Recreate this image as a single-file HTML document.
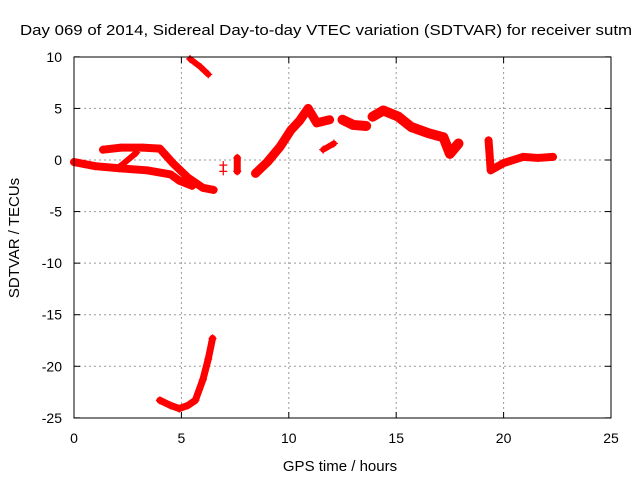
<!DOCTYPE html>
<html><head><meta charset="utf-8"><style>
body{margin:0;background:#fff}
svg text{font-family:"Liberation Sans",sans-serif;font-size:14px;fill:#000}
</style></head><body>
<svg id="chart" width="640" height="480">
<text x="20" y="35" textLength="612" lengthAdjust="spacingAndGlyphs" style="font-size:15px">Day 069 of 2014, Sidereal Day-to-day VTEC variation (SDTVAR) for receiver sutm</text>
<text x="340" y="471" text-anchor="middle" style="font-size:15px">GPS time / hours</text>
<text transform="translate(19,238) rotate(-90)" text-anchor="middle" style="font-size:15px">SDTVAR / TECUs</text>
<g id="grid"></g><g id="axes"></g><g id="marks"></g>
<rect x="74" y="57" width="537" height="361" fill="none" stroke="#000" stroke-width="1"/>
</svg>
<script>
const xTicks=[0,5,10,15,20,25];
const yTicks=[10,5,0,-5,-10,-15,-20,-25];
const segLower=[[0,-0.2],[1.0,-0.6],[2.1,-0.8],[3.4,-1.0],[4.5,-1.4],[4.9,-2.0],[5.5,-2.5]];
const segUpper=[[1.35,1.0],[2.2,1.2],[3.2,1.2],[4.0,1.1],[4.6,-0.3],[5.3,-1.7],[6.0,-2.7],[6.5,-2.9]];
const segCross=[[2.1,-0.7],[2.9,0.7]];
const segTop=[[5.4,9.8],[5.9,9.0],[6.25,8.3]];
const segArc=[[4.0,-23.3],[4.5,-23.8],[4.9,-24.1],[5.3,-23.8],[5.65,-23.3],[6.0,-21.3],[6.25,-19.3],[6.45,-17.3]];
const segIsoA=[[6.95,-0.5],[6.95,-1.1]];
const segIsoB=[[7.6,0.2],[7.6,-1.1]];
const segRise=[[8.45,-1.3],[9.0,-0.2],[9.6,1.3],[10.1,2.9],[10.5,3.8],[10.9,5.0],[11.3,3.6],[11.9,3.9]];
const segSmall=[[11.6,1.0],[12.1,1.6]];
const segMid=[[12.5,3.9],[13.0,3.4],[13.6,3.3]];
const segHump=[[13.9,4.2],[14.4,4.8],[15.1,4.2],[15.7,3.2],[16.5,2.6],[17.2,2.2],[17.5,0.6],[17.9,1.6]];
const segLast=[[19.3,1.9],[19.4,-1.0],[20.0,-0.3],[20.9,0.3],[21.6,0.2],[22.3,0.3]];
const series=[segLower,segUpper,segCross,segTop,segArc,segIsoA,segIsoB,segRise,segSmall,segMid,segHump,segLast];
const widths=[8,8,6,6,7,1.5,7,9,6,10,10,8];
const X=v=>74+v*(537/25), Y=v=>160-v*(361/35);
const NS='http://www.w3.org/2000/svg';
const grid=document.getElementById('grid'),axes=document.getElementById('axes'),marks=document.getElementById('marks');
function mk(t,a,p){const e=document.createElementNS(NS,t);for(const k in a)e.setAttribute(k,a[k]);p.appendChild(e);return e;}
xTicks.forEach(t=>{const x=X(t);
 if(t>0&&t<25){const g=mk('line',{x1:x,x2:x,y1:57,y2:418,stroke:'#999','stroke-dasharray':'2,3'},grid);
 
 }
 const tx=mk('text',{x:x,y:443,'text-anchor':'middle'},axes);tx.textContent=t;
 
 
 mk('line',{x1:x,x2:x,y1:418,y2:412,stroke:'#000'},axes);mk('line',{x1:x,x2:x,y1:57,y2:63,stroke:'#000'},axes);});
yTicks.forEach(t=>{const y=Y(t);
 if(t<10&&t>-25){const g=mk('line',{x1:74,x2:611,y1:y,y2:y,stroke:'#999','stroke-dasharray':'2,3'},grid);
 
 }
 const tx=mk('text',{x:62,y:y+5,'text-anchor':'end'},axes);tx.textContent=t;
 
 
 mk('line',{x1:74,x2:80,y1:y,y2:y,stroke:'#000'},axes);mk('line',{x1:611,x2:605,y1:y,y2:y,stroke:'#000'},axes);});
series.forEach((s,i)=>{
 const pl=mk('polyline',{points:s.map(p=>X(p[0])+','+Y(p[1])).join(' '),fill:'none',stroke:'#f00','stroke-width':widths[i],'stroke-linejoin':'round','stroke-linecap':'round'},marks);
 
 
 s.forEach(p=>{const x=X(p[0]),y=Y(p[1]);
  const m=mk('path',{d:`M${x-4},${y}H${x+4}M${x},${y-4}V${y+4}`,stroke:'#f00','stroke-width':1.2},marks);
  
  });
});
</script>
</body></html>
